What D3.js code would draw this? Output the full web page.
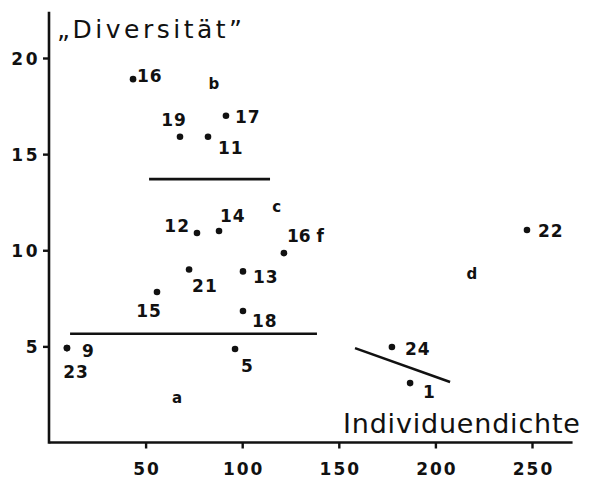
<!DOCTYPE html>
<html>
<head>
<meta charset="utf-8">
<script src="https://cdn.jsdelivr.net/npm/d3@7"></script>
<style>
  body { margin: 0; background: #fff; }
  text { font-family: "DejaVu Sans", sans-serif; fill: #111; }
</style>
</head>
<body>
<div id="chart-area"></div>
<script>
// sites (numbered), density vs. diversity
const sites     = ['16', '19', '11', '17', '12', '14', '16 f', '21', '13', '15', '18', '9', '23', '5', '22', '24', '1']
const density   = [43.5, 67.8, 82.3, 91.6, 76.6, 88.0, 121.6, 72.5, 100.4, 55.9, 100.4, 9.3, 9.3, 96.3, 247.4, 177.5, 186.9]
const diversity = [18.9, 15.9, 15.9, 17.0, 10.9, 11.0, 9.85, 9.0, 8.9, 7.83, 6.84, 4.91, 4.91, 4.86, 11.05, 4.97, 3.09]

// group letters
const groups = ['a', 'b', 'c', 'd']
const groupX = [66.3, 85.4, 117.8, 218.9]
const groupY = [2.05, 18.38, 11.99, 8.5]

// boundary lines between groups
const borderX1 = [51.8, 10.9, 158.4]
const borderY1 = [13.7, 5.66, 4.91]
const borderX2 = [114.4, 138.7, 207.6]
const borderY2 = [13.7, 5.66, 3.15]

const xTicks = [50, 100, 150, 200, 250]
const yTicks = [5, 10, 15, 20]

// where each number sits next to its dot: [dx, dy, anchor]
const labelPlace = {
  '16': [4, 3, 'start'], '19': [-6, -11, 'middle'], '11': [10, 17, 'start'],
  '17': [9, 7, 'start'], '12': [-7, -1, 'end'], '14': [1, -9, 'start'],
  '16 f': [3, -11, 'start'], '21': [3, 23, 'start'], '13': [10, 12, 'start'],
  '15': [-8, 25, 'middle'], '18': [9, 16, 'start'], '9': [15, 9, 'start'],
  '23': [9, 30, 'middle'], '5': [6, 23, 'start'], '22': [11, 7, 'start'],
  '24': [13, 8, 'start'], '1': [13, 15, 'start']
}

const W = 589, H = 481

const svg = d3.select('#chart-area')
              .append('svg')
              .attr('width', W)
              .attr('height', H)

const x = d3.scaleLinear().domain([0, 271]).range([49, 49 + 271 * 1.932])
const y = d3.scaleLinear().domain([0, 20]).range([442.5, 58])

// X Axis
const xAxis = svg.append('g')
                 .attr('transform', 'translate(0,' + y(0) + ')')
                 .call(d3.axisBottom(x).tickValues(xTicks).tickSize(6).tickSizeOuter(0).tickPadding(14))
xAxis.select('.domain').attr('stroke', '#111').attr('stroke-width', 2.6)
     .attr('d', 'M' + (x(0) + 0.5) + ',0H' + x(271))
xAxis.selectAll('.tick line').attr('stroke', '#111').attr('stroke-width', 2.4)
xAxis.selectAll('.tick text')
     .attr('font-family', '"DejaVu Sans", sans-serif')
     .attr('font-size', 17).attr('font-weight', 'bold')
     .attr('letter-spacing', 2).attr('dx', 1).attr('fill', '#111')

// Y Axis
const yAxis = svg.append('g')
                 .attr('transform', 'translate(' + x(0) + ',0)')
                 .call(d3.axisLeft(y).tickValues(yTicks).tickSize(6).tickSizeOuter(0).tickPadding(3))
yAxis.select('.domain').attr('stroke', '#111').attr('stroke-width', 2.6)
     .attr('d', 'M0,' + (y(0) + 1.2) + 'V' + y(22.4))
yAxis.selectAll('.tick line').attr('stroke', '#111').attr('stroke-width', 2.4)
yAxis.selectAll('.tick text')
     .attr('font-family', '"DejaVu Sans", sans-serif')
     .attr('font-size', 17).attr('font-weight', 'bold')
     .attr('letter-spacing', 2.5).attr('dy', '0.38em').attr('fill', '#111')

// Axis titles
svg.append('text')
   .attr('x', 57).attr('y', 38)
   .attr('font-size', 25).attr('letter-spacing', 3.5)
   .text('\u201EDiversit\u00E4t\u201D')

svg.append('text')
   .attr('x', 343).attr('y', 433)
   .attr('font-size', 27).attr('letter-spacing', 0.8)
   .text('Individuendichte')

// Group borders
svg.selectAll('.border')
   .data(borderX1)
   .enter().append('line')
   .attr('class', 'border')
   .attr('x1', (d, i) => x(borderX1[i]))
   .attr('y1', (d, i) => y(borderY1[i]))
   .attr('x2', (d, i) => x(borderX2[i]))
   .attr('y2', (d, i) => y(borderY2[i]))
   .attr('stroke', '#111')
   .attr('stroke-width', 2.6)

// Dots
svg.selectAll('circle')
   .data(sites)
   .enter().append('circle')
   .attr('cx', (d, i) => x(density[i]))
   .attr('cy', (d, i) => y(diversity[i]))
   .attr('r', 3.3)
   .attr('fill', '#111')

// Site numbers
svg.selectAll('.site')
   .data(sites)
   .enter().append('text')
   .attr('class', 'site')
   .attr('x', (d, i) => x(density[i]) + labelPlace[d][0])
   .attr('y', (d, i) => y(diversity[i]) + labelPlace[d][1])
   .attr('text-anchor', d => labelPlace[d][2])
   .attr('font-size', 17)
   .attr('font-weight', 'bold')
   .attr('letter-spacing', d => d === '16 f' ? 0 : 1)
   .text(d => d)

// Group letters
svg.selectAll('.group')
   .data(groups)
   .enter().append('text')
   .attr('class', 'group')
   .attr('x', (d, i) => x(groupX[i]))
   .attr('y', (d, i) => y(groupY[i]))
   .attr('text-anchor', 'middle')
   .attr('font-size', 15)
   .attr('font-weight', 'bold')
   .text(d => d)
</script>
</body>
</html>
